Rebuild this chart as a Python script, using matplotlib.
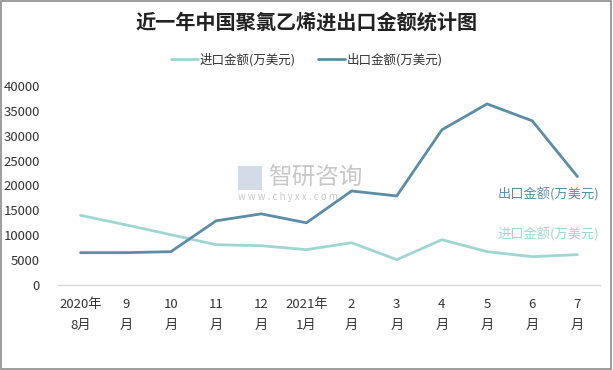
import matplotlib
matplotlib.use("Agg")
import matplotlib.pyplot as plt
from matplotlib.patches import Rectangle

plt.rcParams['font.family'] = ['Noto Sans CJK SC', 'DejaVu Sans']

# 数据
months = ["2020年\n8月", "9\n月", "10\n月", "11\n月", "12\n月", "2021年\n1月",
          "2\n月", "3\n月", "4\n月", "5\n月", "6\n月", "7\n月"]
imports = [14000, 12100, 10100, 8100, 7900, 7100, 8500, 5100, 9100, 6700, 5700, 6100]
exports = [6500, 6500, 6700, 12900, 14300, 12500, 18900, 17900, 31200, 36400, 33000, 21800]
import_name = "进口金额(万美元)"
export_name = "出口金额(万美元)"
yticks = [0, 5000, 10000, 15000, 20000, 25000, 30000, 35000, 40000]

c_imp = "#9fd6d2"
c_exp = "#5a8ea6"

fig = plt.figure(figsize=(6.13, 3.70), dpi=100)
ax = fig.add_axes([58/613, 1-285/370, 542/613, 199/370])

x = range(len(months))
ax.plot(x, imports, color=c_imp, lw=2.0, label=import_name, solid_capstyle='round')
ax.plot(x, exports, color=c_exp, lw=2.0, label=export_name, solid_capstyle='round')

ax.set_xlim(-0.5, len(months) - 0.5)
ax.set_ylim(0, 40000)
ax.set_yticks(yticks)
ax.set_yticklabels([str(v) for v in yticks], fontsize=9.5, color="#333333")
ax.set_xticks(list(x))
ax.set_xticklabels(months, fontsize=9.5, color="#333333", linespacing=1.75)
ax.tick_params(axis='both', length=0)
ax.tick_params(axis='y', pad=13)
ax.tick_params(axis='x', pad=9.5)

for s in ['top', 'right', 'left']:
    ax.spines[s].set_visible(False)
ax.spines['bottom'].set_color("#d9d9d9")
ax.spines['bottom'].set_linewidth(1)

# 末端数据标签
ax.annotate(export_name, xy=(len(months) - 1, exports[-1]), xytext=(16, -13),
            textcoords='offset points', ha='right', va='center', fontsize=9.5, color=c_exp)
ax.annotate(import_name, xy=(len(months) - 1, imports[-1]), xytext=(16, 14.5),
            textcoords='offset points', ha='right', va='center', fontsize=9.5, color=c_imp)

# 标题和图例
fig.text(0.5, 1-22/370, "近一年中国聚氯乙烯进出口金额统计图", ha='center', va='center',
         fontsize=14.5, fontweight='bold', color="#222222")
fig.legend(loc='center', bbox_to_anchor=(0.5, 1-60/370), ncol=2, frameon=False,
           fontsize=9, handlelength=2.2, handletextpad=0.1, columnspacing=1.8,
           labelcolor="#333333")

# 水印
fig.text(268/613, 1-178/370, "智研咨询", fontsize=17, color="#c8c8c8", ha='left', va='center')
fig.text(238/613, 1-197/370, "w w w . c h y x x . c o m", fontsize=7, color="#c8c8c8",
         ha='left', va='center')
fig.patches.append(Rectangle((238/613, 1-190/370), 24/613, 24/370, transform=fig.transFigure,
                             facecolor="#c9d3e3", edgecolor='none', alpha=0.8))

# 外框
fig.patches.append(Rectangle((0.002, 0.003), 0.995, 0.993, transform=fig.transFigure,
                             fill=False, edgecolor="#8c8c8c", lw=1.2))

fig.savefig("out.png", dpi=100)
